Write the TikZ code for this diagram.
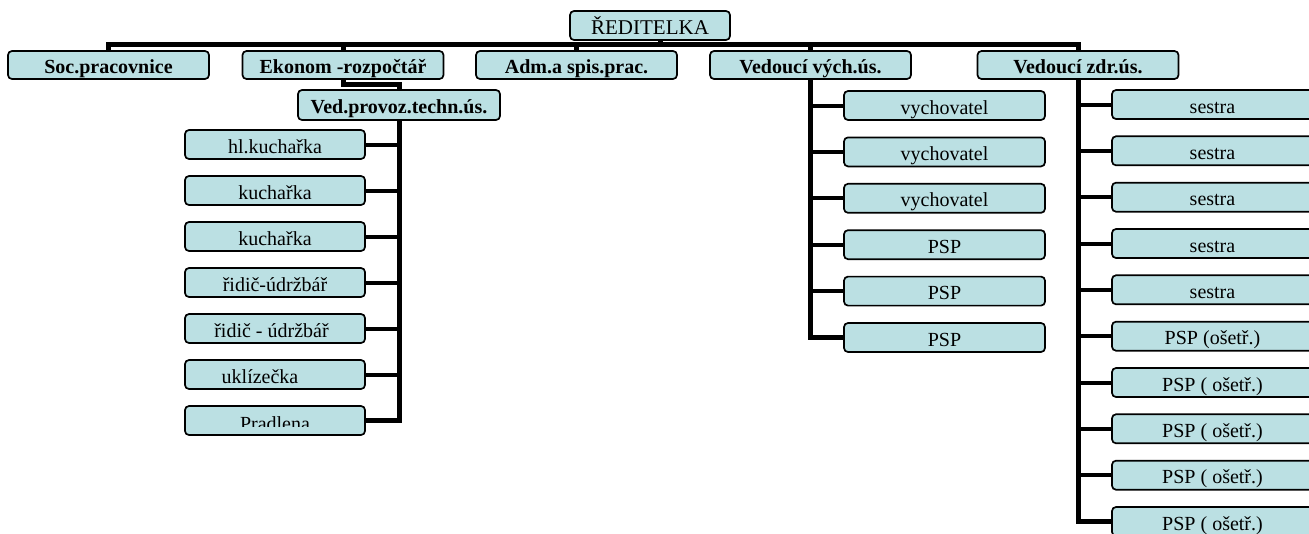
\documentclass[tikz,border=0pt]{standalone}
\usepackage{fontspec}
\setmainfont{Liberation Serif}
\usetikzlibrary{backgrounds}
\definecolor{boxfill}{RGB}{187,224,227}
\tikzset{
  box/.style={draw=black, line width=1.7pt, rounded corners=4pt, fill=boxfill,
    inner sep=0pt, text height=17pt, text depth=0pt,
    font=\fontsize{20}{24}\selectfont},
  bbox/.style={box, font=\fontsize{20}{24}\selectfont\bfseries},
  lvl/.style={minimum width=201pt, minimum height=28pt},
  sub/.style={minimum width=201pt, minimum height=29pt},
  lsub/.style={minimum width=180pt, minimum height=29pt},
  txt/.style={inner sep=0pt, text height=17pt, text depth=0pt,
    font=\fontsize{20}{24}\selectfont},
  conn/.style={line width=5pt},
  stub/.style={line width=4pt},
}
\begin{document}
\begin{tikzpicture}[x=1pt,y=-1pt]
\useasboundingbox (0,0) rectangle (1309,533);
\clip (0,0) rectangle (1309,533);

% top
\node[box, minimum width=160pt, minimum height=29pt, font=\fontsize{21}{24}\selectfont] (red) at (650,25.5) {ŘEDITELKA};

% level 2
\node[bbox, lvl] (soc)  at (108.5,65) {Soc.pracovnice};
\node[bbox, lvl] (eko)  at (343,65)   {Ekonom -rozpočtář};
\node[bbox, lvl] (adm)  at (576.5,65) {Adm.a spis.prac.};
\node[bbox, lvl] (vych) at (810.5,65) {Vedoucí vých.ús.};
\node[bbox, lvl] (zdr)  at (1078,65)  {Vedoucí zdr.ús.};

\node[bbox, minimum width=202pt, minimum height=30pt] (ved) at (399,105) {Ved.provoz.techn.ús.};

% left column
\node[box, lsub] (l1) at (275,144.5) {hl.kuchařka};
\node[box, lsub] (l2) at (275,190.5) {kuchařka};
\node[box, lsub] (l3) at (275,236.5) {kuchařka};
\node[box, lsub] (l4) at (275,282.5) {řidič-údržbář};
\node[box, lsub] (l5) at (275,328.5) {řidič - údržbář\hspace*{7pt}};
\node[box, lsub] (l6) at (275,374.5) {uklízečka\hspace*{30pt}};
\node[box, lsub] (l7) at (275,420.5) {};
\begin{scope}
  \clip (l7.north west) rectangle ([yshift=9pt]l7.south east);
  \node[txt] (l7t) at ([yshift=-1pt]l7.center) {Pradlena};
\end{scope}

% middle column
\node[box, sub] (m1) at (944.5,105.5) {vychovatel};
\node[box, sub] (m2) at (944.5,151.9) {vychovatel};
\node[box, sub] (m3) at (944.5,198.3) {vychovatel};
\node[box, sub] (m4) at (944.5,244.7) {PSP};
\node[box, sub] (m5) at (944.5,291.1) {PSP};
\node[box, sub] (m6) at (944.5,337.5) {PSP};

% right column
\node[box, sub] (r1)  at (1212.5,104.5) {sestra};
\node[box, sub] (r2)  at (1212.5,150.8) {sestra};
\node[box, sub] (r3)  at (1212.5,197.2) {sestra};
\node[box, sub] (r4)  at (1212.5,243.5) {sestra};
\node[box, sub] (r5)  at (1212.5,289.8) {sestra};
\node[box, sub] (r6)  at (1212.5,336.2) {PSP (ošetř.)};
\node[box, sub] (r7)  at (1212.5,382.5) {PSP ( ošetř.)};
\node[box, sub] (r8)  at (1212.5,428.8) {PSP ( ošetř.)};
\node[box, sub] (r9)  at (1212.5,475.2) {PSP ( ošetř.)};
\node[box, sub] (r10) at (1212.5,521.5) {PSP ( ošetř.)};

% connectors
\begin{scope}[on background layer]
  \coordinate (bary) at (0,44.5);
  \coordinate (ekoy) at (0,84.5);
  \coordinate (redc) at (660,40);
  \draw[conn] (soc.north) -- (soc.north |- bary) -- (zdr.north |- bary) -- (zdr.north);
  \draw[conn] (redc) -- (redc |- bary);
  \foreach \n in {eko,adm,vych}
    \draw[conn] (\n.north |- bary) -- (\n.north);
  \draw[conn] (eko.south) -- (eko.south |- ekoy) -| (ved.north);
  \draw[conn] (ved.south) |- (l7.east);
  \foreach \n in {l1,l2,l3,l4,l5,l6}
    \draw[stub] (ved.south |- \n.east) -- (\n.east);
  \draw[conn] (vych.south) |- (m6.west);
  \foreach \n in {m1,m2,m3,m4,m5}
    \draw[stub] (vych.south |- \n.west) -- (\n.west);
  \draw[conn] (zdr.south) |- (r10.west);
  \foreach \n in {r1,r2,r3,r4,r5,r6,r7,r8,r9}
    \draw[stub] (zdr.south |- \n.west) -- (\n.west);
\end{scope}
\end{tikzpicture}
\end{document}
